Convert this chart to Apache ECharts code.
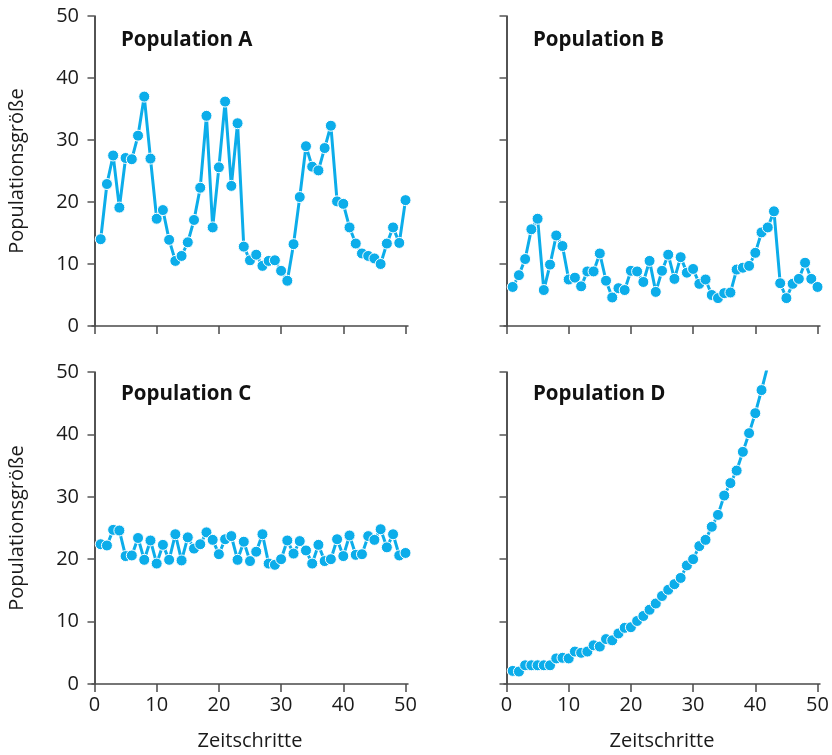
<!DOCTYPE html>
<html>
<head>
<meta charset="utf-8">
<title>Populationen</title>
<script src="https://cdn.jsdelivr.net/npm/echarts@6/dist/echarts.min.js"></script>
<style>
  html, body { margin: 0; padding: 0; background: #fff; }
  #chart { width: 832px; height: 755px; }
</style>
</head>
<body>
<div id="chart"></div>
<script>
// Werte
const panelTitles = ['Population A', 'Population B', 'Population C', 'Population D']
const xTickValues = [0, 10, 20, 30, 40, 50]

const popA = [14.0, 22.9, 27.5, 19.1, 27.1, 26.9, 30.7, 37.0, 27.0, 17.3,
  18.7, 13.9, 10.5, 11.3, 13.5, 17.1, 22.3, 33.9, 15.9, 25.6,
  36.2, 22.6, 32.7, 12.8, 10.6, 11.5, 9.7, 10.5, 10.6, 8.9,
  7.3, 13.2, 20.8, 29.0, 25.7, 25.1, 28.7, 32.3, 20.1, 19.7,
  15.9, 13.3, 11.7, 11.3, 10.9, 10.0, 13.3, 15.9, 13.4, 20.3]

const popB = [6.3, 8.2, 10.8, 15.6, 17.3, 5.8, 9.9, 14.6, 12.9, 7.5,
  7.8, 6.4, 8.8, 8.8, 11.7, 7.3, 4.6, 6.1, 5.8, 8.9,
  8.8, 7.1, 10.5, 5.5, 8.9, 11.5, 7.6, 11.1, 8.6, 9.2,
  6.8, 7.5, 5.0, 4.5, 5.3, 5.4, 9.1, 9.4, 9.7, 11.8,
  15.1, 15.9, 18.5, 6.9, 4.5, 6.8, 7.6, 10.2, 7.6, 6.3]

const popC = [22.4, 22.2, 24.7, 24.6, 20.5, 20.6, 23.4, 19.9, 23.0, 19.3,
  22.3, 19.9, 24.0, 19.8, 23.5, 21.7, 22.4, 24.3, 23.1, 20.8,
  23.2, 23.7, 19.9, 22.8, 19.7, 21.2, 24.0, 19.3, 19.1, 20.0,
  23.0, 20.9, 22.9, 21.4, 19.3, 22.3, 19.7, 20.0, 23.2, 20.5,
  23.8, 20.7, 20.8, 23.7, 23.1, 24.8, 21.9, 24.0, 20.6, 21.0]

const popD = [2.1, 2.0, 3.0, 3.0, 3.0, 3.0, 3.0, 4.1, 4.2, 4.1,
  5.2, 5.0, 5.2, 6.2, 6.0, 7.2, 7.0, 8.1, 9.0, 9.1,
  10.1, 10.9, 11.9, 12.9, 14.1, 15.1, 16.0, 17.0, 19.0, 20.0,
  22.1, 23.1, 25.2, 27.1, 30.2, 32.2, 34.2, 37.2, 40.2, 43.4,
  47.1, 51.0]

const blue = '#0cadea'
const fontFamily = '"Open Sans", "DejaVu Sans", sans-serif'

// Rasterpositionen der vier Felder
const grids = [
  { left: 92, top: 16, width: 316, height: 310 },
  { left: 504, top: 16, width: 316, height: 310 },
  { left: 92, top: 372, width: 316, height: 312 },
  { left: 504, top: 372, width: 316, height: 312 }
]

const toPoints = (values) => values.map((v, i) => [i + 1, v])

const makeXAxis = (index, withLabels) => ({
  type: 'value',
  gridIndex: index,
  min: -0.4,
  max: 50.4,
  name: withLabels ? 'Zeitschritte' : '',
  nameLocation: 'middle',
  nameGap: 47,
  nameTextStyle: { fontFamily, fontSize: 20, color: '#1a1a1a' },
  axisLine: { show: true, lineStyle: { color: '#4a4a4a', width: 1.5 } },
  axisTick: { show: true, length: 8, customValues: xTickValues, lineStyle: { color: '#4a4a4a', width: 1.5 } },
  axisLabel: { show: withLabels, customValues: xTickValues, margin: 11, fontFamily, fontSize: 20, color: '#1a1a1a' },
  splitLine: { show: false }
})

const makeYAxis = (index, withLabels) => ({
  type: 'value',
  gridIndex: index,
  min: 0,
  max: 50,
  interval: 10,
  name: withLabels ? 'Populationsgröße' : '',
  nameLocation: 'middle',
  nameRotate: 90,
  nameGap: 65,
  nameTextStyle: { fontFamily, fontSize: 20, color: '#1a1a1a' },
  axisLine: { show: true, lineStyle: { color: '#1a1a1a', width: 1.5 } },
  axisTick: { show: true, length: 7, lineStyle: { color: '#555', width: 1.5 } },
  axisLabel: { show: withLabels, margin: 13, fontFamily, fontSize: 20, color: '#1a1a1a' },
  splitLine: { show: false }
})

const makeSeries = (index, values) => ({
  type: 'line',
  xAxisIndex: index,
  yAxisIndex: index,
  data: toPoints(values),
  clip: true,
  symbol: 'circle',
  symbolSize: 11,
  showAllSymbol: true,
  lineStyle: { color: blue, width: 3 },
  itemStyle: { color: blue, borderColor: '#fff', borderWidth: 1 },
  emphasis: { disabled: true },
  animation: false
})

const titlePos = [
  { left: 121, top: 30 },
  { left: 533, top: 30 },
  { left: 121, top: 384 },
  { left: 533, top: 384 }
]

const options = {
  backgroundColor: '#fff',
  animation: false,
  title: panelTitles.map((t, i) => ({
    text: t,
    left: titlePos[i].left,
    top: titlePos[i].top,
    padding: 0,
    textStyle: { fontFamily, fontSize: 20.5, fontWeight: 'bold', color: '#111' }
  })),
  grid: grids,
  xAxis: [makeXAxis(0, false), makeXAxis(1, false), makeXAxis(2, true), makeXAxis(3, true)],
  yAxis: [makeYAxis(0, true), makeYAxis(1, false), makeYAxis(2, true), makeYAxis(3, false)],
  tooltip: { show: false },
  legend: { show: false },
  series: [
    makeSeries(0, popA),
    makeSeries(1, popB),
    makeSeries(2, popC),
    makeSeries(3, popD)
  ]
}

const chartInstance = echarts.init(document.getElementById('chart'), null, { renderer: 'canvas' })
chartInstance.setOption(options)
</script>
</body>
</html>
